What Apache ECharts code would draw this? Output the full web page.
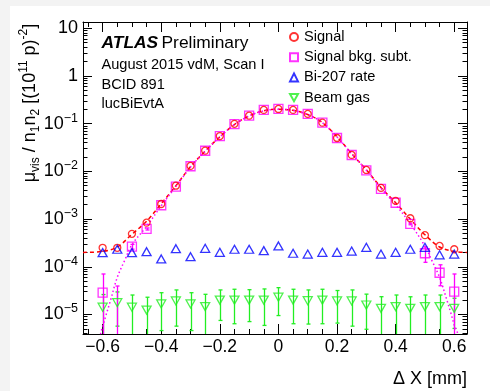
<!DOCTYPE html>
<html><head><meta charset="utf-8">
<script src="https://cdn.jsdelivr.net/npm/echarts@6/dist/echarts.min.js"></script>
<style>html,body{margin:0;padding:0;background:#f3f3f3;}#c{position:absolute;left:0;top:0;width:490px;height:391px;}</style>
</head><body><div id="c"></div><script>
// ---------- data ----------
const xValues = [-0.6,-0.55,-0.5,-0.45,-0.4,-0.35,-0.3,-0.25,-0.2,-0.15,-0.1,-0.05,0,0.05,0.1,0.15,0.2,0.25,0.3,0.35,0.4,0.45,0.5,0.55,0.6];
const signal = [2.5e-4,2.5e-4,4.9e-4,8.4e-4,2.07e-3,5.0e-3,1.3e-2,2.72e-2,5.5e-2,9.9e-2,0.147,0.194,0.203,0.194,0.16,0.105,0.05,0.0221,0.0107,4.5e-3,2.4e-3,1.04e-3,4.6e-4,2.73e-4,2.33e-4];
const signalBkgSubt = [2.86e-5,3e-6,2.64e-4,6.2e-4,1.95e-3,4.8e-3,1.28e-2,2.7e-2,5.5e-2,9.8e-2,0.147,0.194,0.203,0.194,0.16,0.105,0.05,0.022,0.0105,4.3e-3,2.2e-3,7.9e-4,1.92e-4,7.5e-5,3.0e-5];
const signalBkgSubtErr = [4.2e-5,3.65e-5,3e-5,3e-5,0,0,0,0,0,0,0,0,0,0,0,0,0,0,0,0,0,3e-5,6.8e-5,3.5e-5,4.06e-5];
const bi207 = [1.98e-4,2.33e-4,1.98e-4,2.07e-4,1.46e-4,2.39e-4,1.63e-4,2.44e-4,2.01e-4,2.33e-4,2.33e-4,2.18e-4,2.73e-4,1.92e-4,1.85e-4,2.01e-4,2.01e-4,2.14e-4,2.56e-4,1.85e-4,2.01e-4,2.33e-4,2.56e-4,1.78e-4,1.85e-4];
const beamGas = [1.42e-5,1.77e-5,1.42e-5,1.24e-5,1.66e-5,1.92e-5,1.66e-5,1.46e-5,2.01e-5,2.01e-5,2.01e-5,2.01e-5,2.30e-5,2.01e-5,1.95e-5,2.01e-5,1.92e-5,1.92e-5,1.58e-5,1.35e-5,1.46e-5,1.35e-5,1.46e-5,1.46e-5,1.35e-5];
const beamGasErr = [1.2e-5,1.2e-5,1.14e-5,1.06e-5,1.2e-5,1.35e-5,1.2e-5,1.19e-5,1.26e-5,1.37e-5,1.3e-5,1.42e-5,1.35e-5,1.37e-5,1.32e-5,1.37e-5,1.26e-5,1.35e-5,1.09e-5,1.01e-5,1.1e-5,1.0e-5,1.1e-5,1.1e-5,0.84e-5];
// fit curves as drawn (dashed red: signal fit; dotted magenta: bkg-subtracted fit)
const signalFitX = [-0.667,-0.6,-0.55,-0.5,-0.45,-0.4,-0.35,-0.3,-0.25,-0.2,-0.15,-0.1,-0.05,0,0.05,0.1,0.15,0.2,0.25,0.3,0.35,0.4,0.45,0.5,0.55,0.6,0.6436];
const signalFit = [2.0e-4,2.1e-4,2.6e-4,4.8e-4,9.0e-4,2.1e-3,5.0e-3,1.25e-2,2.65e-2,5.3e-2,9.6e-2,0.145,0.186,0.2,0.19,0.155,0.105,0.053,0.0235,0.0108,4.6e-3,2.2e-3,1.0e-3,4.7e-4,2.6e-4,2.1e-4,2.0e-4];
const subtFitX = [-0.615,-0.607,-0.6,-0.59,-0.575,-0.55,-0.525,-0.5,-0.45,-0.4,-0.35,-0.3,-0.25,-0.2,-0.15,-0.1,-0.05,0,0.05,0.1,0.15,0.2,0.25,0.3,0.35,0.4,0.45,0.5,0.525,0.55,0.575,0.59,0.6,0.612,0.62];
const subtFit = [1e-6,3.9e-6,5.5e-6,9e-6,1.8e-5,6e-5,1.35e-4,2.9e-4,7.0e-4,1.9e-3,4.8e-3,1.23e-2,2.63e-2,5.28e-2,9.58e-2,0.1448,0.1858,0.1998,0.1898,0.1548,0.1048,0.0528,0.0233,0.0106,4.4e-3,2.0e-3,8.0e-4,2.7e-4,1.3e-4,6e-5,2e-5,1e-5,6e-6,3.9e-6,1e-6];
// axis ticks / labels
const xMajorTicks = [-0.6,-0.4,-0.2,0,0.2,0.4,0.6];
const xMinorTicks = [-0.65,-0.55,-0.5,-0.45,-0.35,-0.3,-0.25,-0.15,-0.1,-0.05,0.05,0.1,0.15,0.25,0.3,0.35,0.45,0.5,0.55];
const yMajorTicks = [1e-5,1e-4,1e-3,1e-2,1e-1,1,10];
const yMinorTicks = [];
for (let e = -6; e <= 0; e++) for (let k = 2; k <= 9; k++) { const v = +(k * Math.pow(10, e)).toPrecision(3); if (v > 3.9e-6 && v < 13.5) yMinorTicks.push(v); }

const FONT = '"Liberation Sans", Arial, Helvetica, sans-serif';
const X_MIN = -0.667, X_MAX = 0.6436, Y_MIN = 3.9e-6, Y_MAX = 13.5;
const zip = (xs, ys) => xs.map((x, i) => [x, ys[i]]);

function errorBars(xs, vals, errs, color, width, cap) {
  const data = [];
  xs.forEach((x, i) => { if (errs[i] > 0) data.push([x, Math.max(vals[i] - errs[i], 1e-12), vals[i] + errs[i]]); });
  return {
    type: 'custom', silent: true, data, z: 3,
    encode: { x: 0, y: [1, 2] },
    renderItem(params, api) {
      const cs = params.coordSys;
      const x = api.value(0);
      const top = api.coord([x, api.value(2)]);
      const bot = api.coord([x, api.value(1)]);
      const yT = cs.y, yB = cs.y + cs.height;
      const y1 = Math.max(top[1], yT), y2 = Math.min(bot[1], yB);
      const px = Math.round(top[0]) + 0.5;
      const st = { stroke: color, lineWidth: width };
      const ch = [{ type: 'line', shape: { x1: px, y1, x2: px, y2 }, style: st }];
      if (top[1] >= yT) ch.push({ type: 'line', shape: { x1: px - cap, y1: top[1], x2: px + cap, y2: top[1] }, style: st });
      if (bot[1] <= yB) ch.push({ type: 'line', shape: { x1: px - cap, y1: bot[1], x2: px + cap, y2: bot[1] }, style: st });
      return { type: 'group', children: ch };
    }
  };
}

function yLabel(v) {
  const e = Math.round(Math.log10(v));
  if (e === 0) return '{b|1}';
  if (e === 1) return '{b|10}';
  return '{b|10}{s|\u2212' + (-e) + '}';
}
function xLabel(v) {
  if (Math.abs(v) < 1e-9) return '0';
  return (v < 0 ? '\u2212' : '') + Math.abs(v).toFixed(1);
}

const hiddenLine = { show: false, onZero: false };
const baseY = { type: 'log', logBase: 10, min: Y_MIN, max: Y_MAX, splitLine: { show: false }, axisLine: hiddenLine, axisLabel: { show: false }, axisTick: { show: false } };
const baseX = { type: 'value', min: X_MIN, max: X_MAX, splitLine: { show: false }, axisLine: hiddenLine, axisLabel: { show: false }, axisTick: { show: false } };
const black = { color: '#000', width: 1 };

const option = {
  animation: false,
  backgroundColor: 'transparent',
  grid: { left: 83, right: 23, top: 22, bottom: 57 },
  xAxis: [
    Object.assign({}, baseX, { position: 'bottom', axisLine: { show: true, onZero: false, lineStyle: black },
      axisTick: { show: true, inside: true, length: 10, customValues: xMajorTicks, lineStyle: black },
      axisLabel: { show: true, customValues: xMajorTicks, formatter: xLabel, margin: 4, fontSize: 17.5, color: '#000', fontFamily: FONT } }),
    Object.assign({}, baseX, { position: 'bottom', axisTick: { show: true, inside: true, length: 5, customValues: xMinorTicks, lineStyle: black } }),
    Object.assign({}, baseX, { position: 'top', axisLine: { show: true, onZero: false, lineStyle: black },
      axisTick: { show: true, inside: true, length: 10, customValues: xMajorTicks, lineStyle: black } }),
    Object.assign({}, baseX, { position: 'top', axisTick: { show: true, inside: true, length: 5, customValues: xMinorTicks, lineStyle: black } })
  ],
  yAxis: [
    Object.assign({}, baseY, { position: 'left', axisLine: { show: true, onZero: false, lineStyle: black },
      axisTick: { show: true, inside: true, length: 9, customValues: yMajorTicks, lineStyle: black },
      axisLabel: { show: true, customValues: yMajorTicks, formatter: yLabel, margin: 5, color: '#000',
        rich: { b: { fontSize: 18, lineHeight: 24, fontFamily: FONT, color: '#000' },
                s: { fontSize: 12.5, lineHeight: 12.5, verticalAlign: 'top', fontFamily: FONT, color: '#000' } } } }),
    Object.assign({}, baseY, { position: 'left', axisTick: { show: true, inside: true, length: 4.5, customValues: yMinorTicks, lineStyle: black } }),
    Object.assign({}, baseY, { position: 'right', axisLine: { show: true, onZero: false, lineStyle: black },
      axisTick: { show: true, inside: true, length: 9, customValues: yMajorTicks, lineStyle: black } }),
    Object.assign({}, baseY, { position: 'right', axisTick: { show: true, inside: true, length: 4.5, customValues: yMinorTicks, lineStyle: black } })
  ],
  legend: {
    orient: 'vertical', left: 289, top: 29.5, itemWidth: 8, itemHeight: 8, itemGap: 5.2, padding: 0,
    selectedMode: false,
    textStyle: { fontSize: 14.6, fontFamily: FONT, color: '#000', padding: [0, 0, 0, 1] },
    data: ['Signal', 'Signal bkg. subt.', 'Bi-207 rate', 'Beam gas']
  },
  graphic: [
    { type: 'rect', z: -10, shape: { x: 10, y: 6, width: 480, height: 385 }, style: { fill: '#ffffff' }, silent: true },
    { type: 'text', x: 101.5, y: 43.5, style: { text: '{a|ATLAS} {p|Preliminary}', textVerticalAlign: 'middle', verticalAlign: 'middle',
        rich: { a: { fontSize: 17.4, fontWeight: 'bold', fontStyle: 'italic', fontFamily: FONT, fill: '#000' },
                p: { fontSize: 17.4, fontFamily: FONT, fill: '#000' } } } },
    { type: 'text', x: 101.5, y: 65, style: { text: 'August 2015 vdM, Scan I', fontSize: 14.6, fontFamily: FONT, fill: '#000', textVerticalAlign: 'middle', verticalAlign: 'middle' } },
    { type: 'text', x: 101.5, y: 84.5, style: { text: 'BCID 891', fontSize: 14.6, fontFamily: FONT, fill: '#000', textVerticalAlign: 'middle', verticalAlign: 'middle' } },
    { type: 'text', x: 101.5, y: 104, style: { text: 'lucBiEvtA', fontSize: 14.6, fontFamily: FONT, fill: '#000', textVerticalAlign: 'middle', verticalAlign: 'middle' } },
    { type: 'text', x: 467, y: 379, style: { text: '\u0394 X [mm]', fontSize: 18, fontFamily: FONT, fill: '#000', textAlign: 'right', align: 'right', textVerticalAlign: 'middle', verticalAlign: 'middle' } },
    { type: 'text', x: 30, y: 103, rotation: Math.PI / 2,
      style: { text: '{b|\u03bc}{sb|vis}{b| / n}{sb|1}{b|n}{sb|2}{b| [(10}{sp|11}{b| p)}{sp|-2}{b|]}',
        textAlign: 'center', align: 'center', textVerticalAlign: 'middle', verticalAlign: 'middle',
        rich: { b: { fontSize: 18, lineHeight: 24, fontFamily: FONT, fill: '#000' },
                sb: { fontSize: 12, lineHeight: 12, verticalAlign: 'bottom', fontFamily: FONT, fill: '#000' },
                sp: { fontSize: 12, lineHeight: 12, verticalAlign: 'top', fontFamily: FONT, fill: '#000' } } } }
  ],
  series: [
    errorBars(xValues, beamGas, beamGasErr, '#22ee22', 1.3, 2),
    errorBars(xValues, signalBkgSubt, signalBkgSubtErr, '#ff00ff', 1.3, 2),
    { type: 'line', name: 'signalFit', data: zip(signalFitX, signalFit), showSymbol: false, symbol: 'none', smooth: 0.35, z: 4, silent: true,
      lineStyle: { color: '#ff0000', width: 1.5, type: [4, 3] } },
    { type: 'line', name: 'subtFit', data: zip(subtFitX, subtFit), showSymbol: false, symbol: 'none', smooth: 0.35, z: 4, silent: true,
      lineStyle: { color: '#ff00ff', width: 1.5, type: [1.5, 2.5] } },
    { type: 'scatter', name: 'Signal bkg. subt.', data: zip(xValues, signalBkgSubt), symbol: 'rect', symbolSize: 9, clip: true, z: 5,
      itemStyle: { color: 'rgba(0,0,0,0)', borderColor: '#ff00ff', borderWidth: 1.3 } },
    { type: 'scatter', name: 'Signal', data: zip(xValues, signal), symbol: 'circle', symbolSize: 7, clip: true, z: 6,
      itemStyle: { color: 'rgba(0,0,0,0)', borderColor: '#ff0000', borderWidth: 1.3 } },
    { type: 'scatter', name: 'Bi-207 rate', data: zip(xValues, bi207), symbol: 'triangle', symbolSize: [9, 8], clip: true, z: 6,
      itemStyle: { color: 'rgba(0,0,0,0)', borderColor: '#0000ff', borderWidth: 1.3 } },
    { type: 'scatter', name: 'Beam gas', data: zip(xValues, beamGas), symbol: 'path://M0,0L10,0L5,9Z', symbolSize: [9, 8], clip: true, z: 6,
      itemStyle: { color: 'rgba(0,0,0,0)', borderColor: '#22ee22', borderWidth: 1.3 } }
  ]
};
const chart = echarts.init(document.getElementById('c'), null, { renderer: 'canvas' });
chart.setOption(option);
</script></body></html>
